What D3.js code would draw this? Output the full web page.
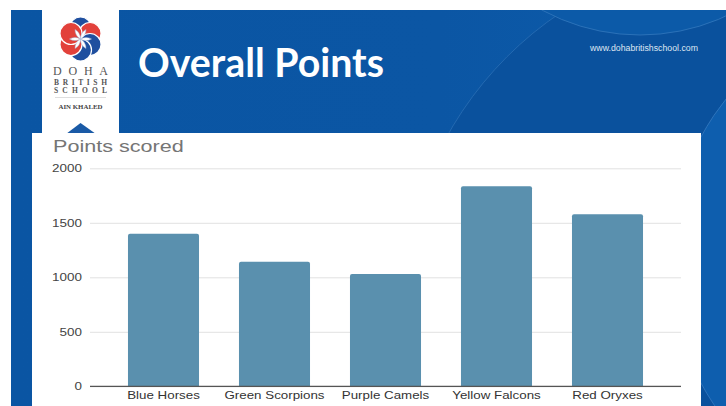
<!DOCTYPE html>
<html>
<head>
<meta charset="utf-8">
<script src="https://cdn.jsdelivr.net/npm/d3@7"></script>
<style>
  html, body { margin: 0; padding: 0; background: #ffffff; }
  svg { display: block; }
</style>
</head>
<body>
<svg id="chart" width="726" height="406"></svg>
<script>
// ---- data ----
const categories = ["Blue Horses", "Green Scorpions", "Purple Camels", "Yellow Falcons", "Red Oryxes"];
const pointsValues = [1400, 1143, 1030, 1835, 1578];
const yTickValues = [0, 500, 1000, 1500, 2000];
const chartTitle = "Points scored";
const slideTitle = "Overall Points";
const websiteText = "www.dohabritishschool.com";
const logoLines = ["DOHA", "BRITISH", "SCHOOL", "AIN KHALED"];

const svg = d3.select("#chart");
const W = 726, H = 406;

// stretch helper: widen text horizontally like the reference screenshot
function stretch(sel, f) {
  sel.each(function () {
    const w = this.getComputedTextLength();
    d3.select(this).attr("textLength", w * f).attr("lengthAdjust", "spacingAndGlyphs");
  });
}

// ---- slide background ----
const defs = svg.append("defs");
defs.append("clipPath").attr("id", "slideClip")
  .append("rect").attr("x", 11).attr("y", 10).attr("width", W - 11).attr("height", H - 10);
const grad = defs.append("linearGradient").attr("id", "bgGrad")
  .attr("x1", "0").attr("y1", "0").attr("x2", "1").attr("y2", "0");
grad.append("stop").attr("offset", "0").attr("stop-color", "#0a55a3");
grad.append("stop").attr("offset", "0.6").attr("stop-color", "#0b56a4");
grad.append("stop").attr("offset", "1").attr("stop-color", "#0d5cab");

const bg = svg.append("g").attr("clip-path", "url(#slideClip)");
bg.append("rect").attr("x", 11).attr("y", 10).attr("width", W - 11).attr("height", H - 10)
  .attr("fill", "url(#bgGrad)");
bg.append("circle").attr("cx", 760).attr("cy", 310).attr("r", 358)
  .attr("fill", "#0a519d").attr("stroke", "#2f72b8").attr("stroke-width", 0.7);
bg.append("circle").attr("cx", 640).attr("cy", -170).attr("r", 205)
  .attr("fill", "#0c5aa8").attr("stroke", "#3a7cc0").attr("stroke-width", 0.7);
bg.append("circle").attr("cx", 930).attr("cy", 260).attr("r", 260)
  .attr("fill", "#0e5eae").attr("stroke", "#3d80c4").attr("stroke-width", 0.7);
bg.append("circle").attr("cx", 860).attr("cy", 560).attr("r", 200)
  .attr("fill", "#0b57a5").attr("stroke", "#3a7cc0").attr("stroke-width", 0.7);

// ---- logo panel ----
svg.append("rect").attr("x", 42).attr("y", 10).attr("width", 77).attr("height", 126).attr("fill", "#ffffff");
const logo = svg.append("g").attr("transform", "translate(80.5,39)");
const R = 22, r = R / 2;
logo.append("circle").attr("r", R).attr("fill", "#ffffff");
const petalColors = ["#1f4f9f", "#e2413b", "#1f4f9f", "#1f4f9f", "#e2413b", "#e2413b"];
d3.range(6).forEach(k => {
  const a = (k * 60 - 90) * Math.PI / 180;
  logo.append("circle").attr("cx", r * Math.cos(a)).attr("cy", r * Math.sin(a)).attr("r", r)
    .attr("fill", petalColors[k]).attr("stroke", "#ffffff").attr("stroke-width", 1.2);
});
d3.range(6).forEach(k => {
  const a = (k * 60 - 60) * Math.PI / 180;
  const px = r * Math.cos(a), py = r * Math.sin(a);
  logo.append("path")
    .attr("d", `M0,0 A${r},${r} 0 0 1 ${px},${py} A${r},${r} 0 0 1 0,0`)
    .attr("fill", "#ffffff").attr("stroke", "#9fb3d6").attr("stroke-width", 0.5);
});

const serif = "'Liberation Serif', 'DejaVu Serif', serif";
svg.append("text").attr("x", 80.5).attr("y", 74.5).attr("text-anchor", "middle")
  .attr("font-family", serif).attr("font-size", 12).attr("fill", "#555")
  .attr("textLength", 55).attr("lengthAdjust", "spacing").text(logoLines[0]);
svg.append("text").attr("x", 80.5).attr("y", 84.5).attr("text-anchor", "middle")
  .attr("font-family", serif).attr("font-size", 7.5).attr("font-weight", "bold").attr("fill", "#555")
  .attr("textLength", 53).attr("lengthAdjust", "spacing").text(logoLines[1]);
svg.append("text").attr("x", 80.5).attr("y", 92.5).attr("text-anchor", "middle")
  .attr("font-family", serif).attr("font-size", 7.5).attr("font-weight", "bold").attr("fill", "#555")
  .attr("textLength", 53).attr("lengthAdjust", "spacing").text(logoLines[2]);
svg.append("line").attr("x1", 55).attr("x2", 106).attr("y1", 97.5).attr("y2", 97.5)
  .attr("stroke", "#d6d6d6").attr("stroke-width", 0.8);
svg.append("text").attr("x", 80.5).attr("y", 108.5).attr("text-anchor", "middle")
  .attr("font-family", serif).attr("font-size", 6.5).attr("font-weight", "bold").attr("fill", "#444")
  .attr("textLength", 44).attr("lengthAdjust", "spacingAndGlyphs").text(logoLines[3]);
svg.append("path").attr("d", "M66,134 L80.5,123 L96,134 Z").attr("fill", "#1a5aa6");

// ---- slide title & website ----
svg.append("text").attr("x", 138).attr("y", 77)
  .attr("font-family", "'Comic Sans MS', Lato, 'Open Sans', sans-serif")
  .attr("font-weight", "bold").attr("font-size", 40).attr("fill", "#ffffff")
  .attr("textLength", 246).attr("lengthAdjust", "spacingAndGlyphs").text(slideTitle);
svg.append("text").attr("x", 590).attr("y", 51)
  .attr("font-family", "'Liberation Sans', Arial, sans-serif")
  .attr("font-size", 8.5).attr("fill", "#dfe7f2")
  .attr("textLength", 108).attr("lengthAdjust", "spacingAndGlyphs").text(websiteText);

// ---- chart panel ----
svg.append("rect").attr("x", 32).attr("y", 133).attr("width", 669).attr("height", H - 133)
  .attr("fill", "#ffffff");

svg.append("text").attr("x", 53).attr("y", 152)
  .attr("font-family", "'Liberation Sans', Arial, sans-serif")
  .attr("font-size", 17).attr("fill", "#757575")
  .call(s => s.text(chartTitle))
  .call(s => stretch(s, 1.27));

const plotLeft = 90, plotRight = 681;
const y = d3.scaleLinear().domain([0, 2000]).range([386.3, 168.3]);
const x = d3.scaleBand().domain(categories).range([108, 663])
  .paddingInner(0.36).paddingOuter(0.18);

// gridlines + y labels
const yAxis = svg.append("g").attr("transform", `translate(${plotLeft},0)`)
  .call(d3.axisLeft(y).tickValues(yTickValues).tickSize(-(plotRight - plotLeft)).tickPadding(8)
    .tickFormat(d3.format("d")));
yAxis.select(".domain").remove();
yAxis.selectAll(".tick line").attr("stroke", "#e2e2e2").attr("stroke-width", 1);
yAxis.selectAll(".tick text").attr("font-family", "'Liberation Sans', Arial, sans-serif")
  .attr("font-size", 10.5).attr("fill", "#444")
  .call(s => stretch(s, 1.28));

// bars
svg.append("g").selectAll("path.bar")
  .data(categories.map((c, i) => ({ c, v: pointsValues[i] })))
  .join("path")
  .attr("class", "bar")
  .attr("fill", "#5a90ae")
  .attr("d", d => {
    const x0 = x(d.c), w = x.bandwidth(), y0 = y(d.v), y1 = y(0), rr = 2;
    return `M${x0},${y1} L${x0},${y0 + rr} Q${x0},${y0} ${x0 + rr},${y0} L${x0 + w - rr},${y0} Q${x0 + w},${y0} ${x0 + w},${y0 + rr} L${x0 + w},${y1} Z`;
  });

// baseline + category labels
const xAxis = svg.append("g").attr("transform", `translate(0,${y(0)})`)
  .call(d3.axisBottom(x).tickSize(0).tickPadding(5));
xAxis.select(".domain").remove();
svg.append("line").attr("x1", plotLeft).attr("x2", plotRight)
  .attr("y1", y(0)).attr("y2", y(0)).attr("stroke", "#555").attr("stroke-width", 1.2);
xAxis.selectAll(".tick text").attr("font-family", "'Liberation Sans', Arial, sans-serif")
  .attr("font-size", 10.5).attr("fill", "#333")
  .call(s => stretch(s, 1.27));
</script>
</body>
</html>
